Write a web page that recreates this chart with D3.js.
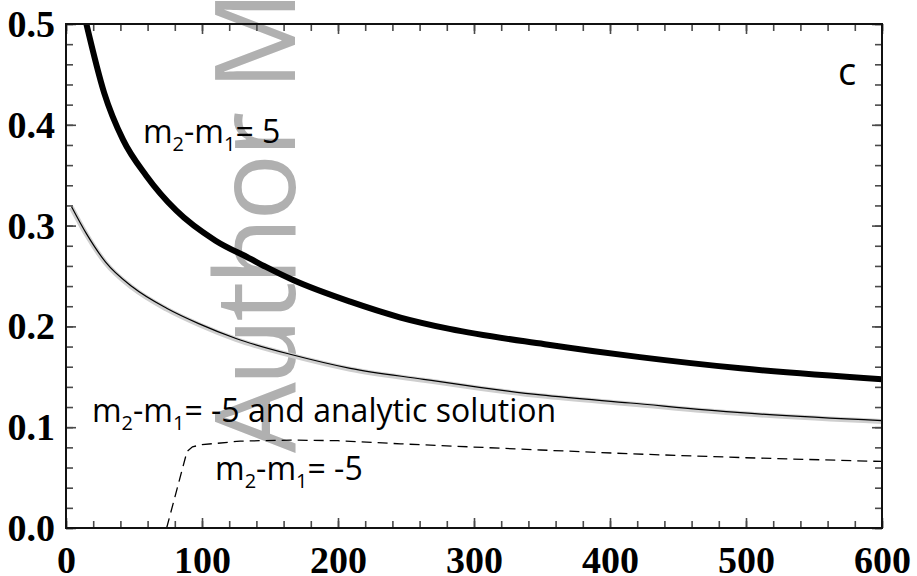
<!DOCTYPE html>
<html>
<head>
<meta charset="utf-8">
<script src="https://cdn.jsdelivr.net/npm/d3@7"></script>
<style>
  html, body { margin: 0; padding: 0; background: #fff; }
  svg { display: block; }
</style>
</head>
<body>
<script>
// ---- data ----
const xMajorTicks = [0, 100, 200, 300, 400, 500, 600];
const yMajorTicks = [0.0, 0.1, 0.2, 0.3, 0.4, 0.5];

// m2-m1 = 5 (thick black)
const posX = [15, 28, 42, 59, 81, 110, 135, 147, 167, 209, 246, 282, 352, 422, 496, 600];
const posY = [0.500, 0.432, 0.385, 0.3495, 0.315, 0.285, 0.2675, 0.259, 0.246, 0.2245, 0.2088, 0.1975, 0.1823, 0.1695, 0.1584, 0.1475];

// m2-m1 = -5 numeric (thin black)
const negX = [4, 15, 29, 49, 74, 98, 125, 167, 209, 263, 304, 349, 415, 496, 600];
const negY = [0.319, 0.292, 0.264, 0.239, 0.218, 0.2025, 0.188, 0.1716, 0.1584, 0.1475, 0.1396, 0.132, 0.124, 0.1144, 0.1065];

// analytic solution (grey halo)
const anaX = [4, 15, 29, 49, 74, 98, 125, 167, 209, 263, 304, 349, 415, 496, 600];
const anaY = [0.318, 0.2912, 0.2632, 0.2382, 0.2171, 0.2016, 0.1871, 0.1707, 0.1575, 0.1466, 0.1387, 0.1311, 0.1231, 0.1135, 0.1056];

// m2-m1 = -5 (dashed)
const dashX = [74, 89, 93, 100, 111, 128, 165, 200, 246, 349, 415, 500, 600];
const dashY = [0.0, 0.076, 0.0805, 0.0828, 0.0840, 0.0862, 0.0872, 0.0866, 0.0835, 0.0774, 0.0736, 0.0697, 0.0660];

// ---- layout ----
const W = 917, H = 576;
const svg = d3.select("body").append("svg").attr("width", W).attr("height", H);
svg.append("rect").attr("width", W).attr("height", H).attr("fill", "#fff");

const x = d3.scaleLinear().domain([0, 600]).range([66, 882]);
const y = d3.scaleLinear().domain([0, 0.5]).range([528, 24]);

// watermark (behind everything)
svg.append("text")
  .attr("transform", "translate(295,453) rotate(-90)")
  .attr("font-family", "'Open Sans', sans-serif")
  .attr("font-size", 112)
  .attr("letter-spacing", -4)
  .attr("fill", "#b0b0b0")
  .text("Author M");

// clip
svg.append("clipPath").attr("id", "plotclip")
  .append("rect").attr("x", 66).attr("y", 24).attr("width", 816).attr("height", 504);

const plot = svg.append("g").attr("clip-path", "url(#plotclip)");
const smooth = d3.line().curve(d3.curveMonotoneX).x(d => x(d[0])).y(d => y(d[1]));
const straight = d3.line().x(d => x(d[0])).y(d => y(d[1]));
const zip = (a, b) => a.map((v, i) => [v, b[i]]);

plot.append("path").datum(zip(anaX, anaY))
  .attr("d", smooth).attr("fill", "none").attr("stroke", "#cfcfcf").attr("stroke-width", 5)
  .attr("stroke-linejoin", "round");
plot.append("path").datum(zip(negX, negY))
  .attr("d", smooth).attr("fill", "none").attr("stroke", "#000").attr("stroke-width", 1.2)
  .attr("stroke-linejoin", "round");
plot.append("path").datum(zip(dashX, dashY))
  .attr("d", straight).attr("fill", "none").attr("stroke", "#000").attr("stroke-width", 1.3)
  .attr("stroke-dasharray", "10,6");
plot.append("path").datum(zip(posX, posY))
  .attr("d", smooth).attr("fill", "none").attr("stroke", "#000").attr("stroke-width", 6)
  .attr("stroke-linejoin", "round");

// ---- axes ----
const tickColor = "#4a4a4a";
const serif = "'Liberation Serif', 'Times New Roman', serif";

function styleAxis(g) {
  g.select(".domain").remove();
  g.selectAll(".tick line").attr("stroke", tickColor).attr("stroke-width", 1.6);
}

const xMinor = d3.range(0, 601, 20);
const yMinor = d3.range(0, 0.5001, 0.02).map(v => +v.toFixed(2));

// bottom
svg.append("g").attr("transform", "translate(0,528)")
  .call(d3.axisBottom(x).tickValues(xMinor).tickSize(-7).tickFormat(""))
  .call(styleAxis);
svg.append("g").attr("transform", "translate(0,528)")
  .call(d3.axisBottom(x).tickValues(xMajorTicks).tickSize(-10).tickPadding(18).tickFormat(d3.format("d")))
  .call(styleAxis)
  .call(g => g.selectAll("text").attr("font-family", serif).attr("font-size", 38)
      .attr("font-weight", "bold").attr("fill", "#000"));
// top
svg.append("g").attr("transform", "translate(0,24)")
  .call(d3.axisTop(x).tickValues(xMinor).tickSize(-7).tickFormat(""))
  .call(styleAxis);
svg.append("g").attr("transform", "translate(0,24)")
  .call(d3.axisTop(x).tickValues(xMajorTicks).tickSize(-10).tickFormat(""))
  .call(styleAxis);
// left
svg.append("g").attr("transform", "translate(66,0)")
  .call(d3.axisLeft(y).tickValues(yMinor).tickSize(-7).tickFormat(""))
  .call(styleAxis);
svg.append("g").attr("transform", "translate(66,0)")
  .call(d3.axisLeft(y).tickValues(yMajorTicks).tickSize(-10).tickPadding(11).tickFormat(d3.format(".1f")))
  .call(styleAxis)
  .call(g => g.selectAll("text").attr("font-family", serif).attr("font-size", 38)
      .attr("font-weight", "bold").attr("fill", "#000").attr("dy", "0.33em"));
// right
svg.append("g").attr("transform", "translate(882,0)")
  .call(d3.axisRight(y).tickValues(yMinor).tickSize(-7).tickFormat(""))
  .call(styleAxis);
svg.append("g").attr("transform", "translate(882,0)")
  .call(d3.axisRight(y).tickValues(yMajorTicks).tickSize(-10).tickFormat(""))
  .call(styleAxis);

// frame
svg.append("rect").attr("x", 66).attr("y", 24).attr("width", 816).attr("height", 504)
  .attr("fill", "none").attr("stroke", "#111").attr("stroke-width", 2);

// ---- labels ----
const sans = "'Open Sans', sans-serif";
function mLabel(px, py, tail) {
  const t = svg.append("text").attr("x", x(px)).attr("y", y(py))
    .attr("font-family", sans).attr("font-size", 32).attr("fill", "#000");
  t.append("tspan").text("m");
  t.append("tspan").attr("font-size", 20).attr("dy", 8).text("2");
  t.append("tspan").attr("dy", -8).text("-m");
  t.append("tspan").attr("font-size", 20).attr("dy", 8).text("1");
  t.append("tspan").attr("dy", -8).text(tail);
}
mLabel(56.6, 0.382, "= 5");
mLabel(19.1, 0.105, "= -5 and analytic solution");
mLabel(109.6, 0.0476, "= -5");

svg.append("text").attr("x", x(567.6)).attr("y", y(0.4395))
  .attr("font-family", sans).attr("font-size", 38).attr("fill", "#000").text("c");
</script>
</body>
</html>
